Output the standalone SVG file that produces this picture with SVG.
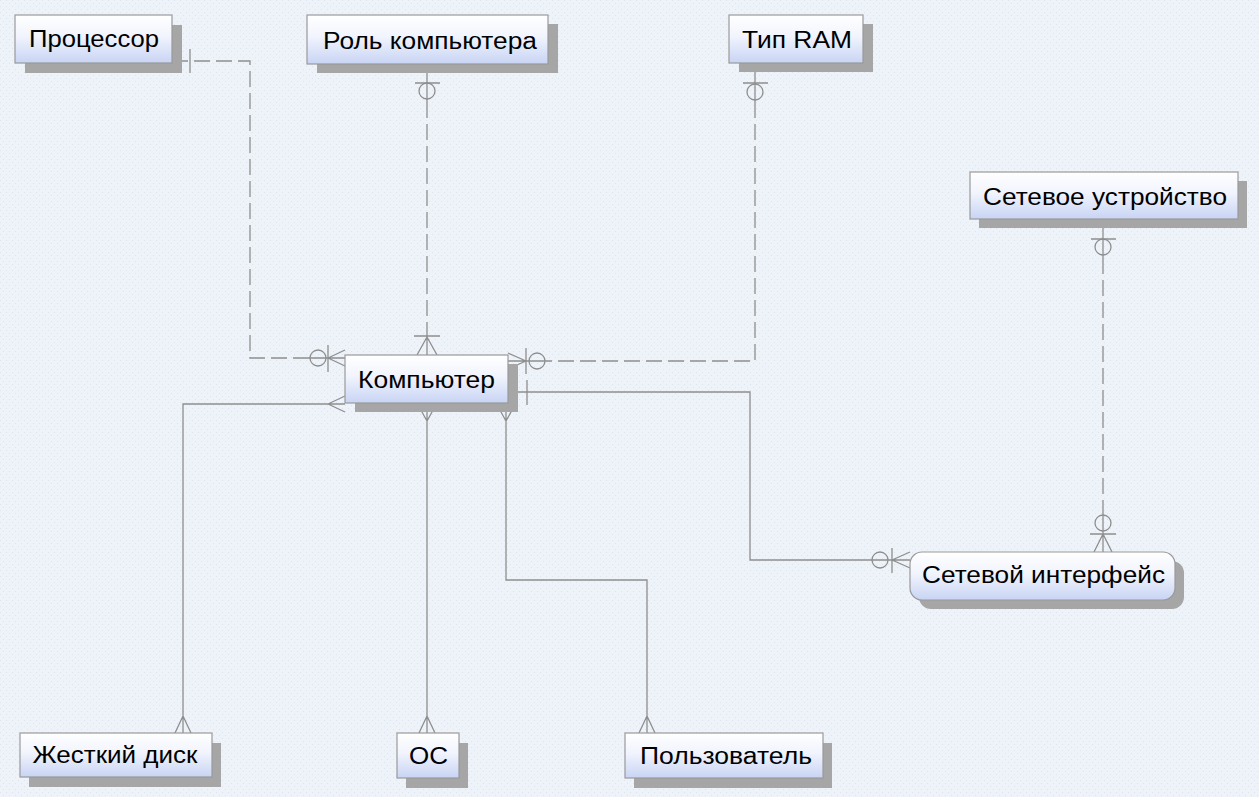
<svg xmlns="http://www.w3.org/2000/svg" width="1259" height="797" viewBox="0 0 1259 797">
  <defs>
    <pattern id="bg" width="6" height="6" patternUnits="userSpaceOnUse">
      <rect width="6" height="6" fill="#eef3f9"/>
      <rect x="0" y="0" width="1" height="1" fill="#dde4ec"/>
      <rect x="3" y="3" width="1" height="1" fill="#dde4ec"/>
    </pattern>
    <linearGradient id="boxg" x1="0" y1="0" x2="0" y2="1">
      <stop offset="0" stop-color="#ffffff"/>
      <stop offset="0.45" stop-color="#f1f4fd"/>
      <stop offset="1" stop-color="#c8d4f4"/>
    </linearGradient>
    <style>
      .box { fill: url(#boxg); stroke: #9a9a9a; stroke-width: 1.2; }
      .sh { fill: #a6a6a6; }
      .lbl { font-family: "Liberation Sans", Arial, sans-serif; font-size: 23px; fill: #000; text-anchor: middle; }
      .ln { fill: none; stroke: #8e8e8e; stroke-width: 1.3; }
      .dash { stroke-dasharray: 16 6; }
    </style>
  </defs>
  <rect width="1259" height="797" fill="url(#bg)"/>

  <g id="connectors">
    <!-- Процессор - Компьютер -->
    <path class="ln dash" d="M172,61 H250 V358 H300"/>
    <path class="ln" d="M300,358 H345 M190,49 V73 M328,345 V372 M328,358 L345,350 M328,358 L345,366"/>
    <circle class="ln" cx="318" cy="358" r="8"/>
    <!-- Роль компьютера - Компьютер -->
    <path class="ln" d="M427,64 V102"/>
    <path class="ln dash" d="M427,102 V322"/>
    <path class="ln" d="M427,322 V355 M415,83 H440 M414,336 H440 M427,337 L417,355 M427,337 L437,355"/>
    <circle class="ln" cx="427" cy="91" r="8"/>
    <!-- Тип RAM - Компьютер -->
    <path class="ln" d="M755,63 V102"/>
    <path class="ln dash" d="M755,102 V361 H552"/>
    <path class="ln" d="M552,361 H508 M743,83 H768 M526,348 V374 M526,361 L508,353 M526,361 L508,369"/>
    <circle class="ln" cx="755" cy="92" r="8"/>
    <circle class="ln" cx="537" cy="361" r="8"/>
    <!-- Сетевое устройство - Сетевой интерфейс -->
    <path class="ln" d="M1103,219 V258"/>
    <path class="ln dash" d="M1103,258 V510"/>
    <path class="ln" d="M1103,510 V552 M1091,239 H1116 M1090,534 H1116 M1103,534 L1094,552 M1103,534 L1112,552"/>
    <circle class="ln" cx="1103" cy="247" r="8"/>
    <circle class="ln" cx="1103" cy="523" r="8"/>
    <!-- Компьютер - Сетевой интерфейс -->
    <path class="ln" d="M508,392 H750 V560 H910 M527,380 V405 M892,548 V573 M892,560 L910,552 M892,560 L910,568"/>
    <circle class="ln" cx="880" cy="560" r="8"/>
    <!-- Компьютер - Жесткий диск -->
    <path class="ln" d="M345,404 H183 V733 M328,404 L345,396 M328,404 L345,412 M183,716 L175,733 M183,716 L191,733"/>
    <!-- Компьютер - ОС -->
    <path class="ln" d="M427,403 V733 M427,421 L417,403 M427,421 L437,403 M427,716 L419,733 M427,716 L435,733"/>
    <!-- Компьютер - Пользователь -->
    <path class="ln" d="M506,403 V580 H647 V733 M506,421 L496,403 M506,421 L516,403 M647,716 L639,733 M647,716 L655,733"/>
  </g>

  <g id="node-processor">
    <rect class="sh" x="25" y="25" width="157" height="48"/>
    <rect class="box" x="15" y="15" width="157" height="48"/>
    <text class="lbl" x="94" y="47" textLength="130" lengthAdjust="spacingAndGlyphs">Процессор</text>
  </g>
  <g id="node-role">
    <rect class="sh" x="317" y="24" width="241" height="49"/>
    <rect class="box" x="307" y="15" width="241" height="49"/>
    <text class="lbl" x="430" y="49" textLength="214" lengthAdjust="spacingAndGlyphs">Роль компьютера</text>
  </g>
  <g id="node-ram">
    <rect class="sh" x="739" y="24" width="134" height="48"/>
    <rect class="box" x="729" y="15" width="134" height="48"/>
    <text class="lbl" x="797" y="48" textLength="110" lengthAdjust="spacingAndGlyphs">Тип RAM</text>
  </g>
  <g id="node-netdevice">
    <rect class="sh" x="979" y="181" width="268" height="47"/>
    <rect class="box" x="970" y="172" width="268" height="47"/>
    <text class="lbl" x="1105" y="205" textLength="244" lengthAdjust="spacingAndGlyphs">Сетевое устройство</text>
  </g>
  <g id="node-computer">
    <rect class="sh" x="355" y="364" width="163" height="48"/>
    <rect class="box" x="345" y="355" width="163" height="48"/>
    <text class="lbl" x="426.5" y="388" textLength="137" lengthAdjust="spacingAndGlyphs">Компьютер</text>
  </g>
  <g id="node-netif">
    <rect class="sh" x="919" y="561" width="265" height="48" rx="12"/>
    <rect class="box" x="910" y="552" width="265" height="48" rx="12"/>
    <text class="lbl" x="1043.5" y="583" textLength="243" lengthAdjust="spacingAndGlyphs">Сетевой интерфейс</text>
  </g>
  <g id="node-hdd">
    <rect class="sh" x="29" y="743" width="192" height="44"/>
    <rect class="box" x="20" y="733" width="192" height="44"/>
    <text class="lbl" x="115" y="763" textLength="165" lengthAdjust="spacingAndGlyphs">Жесткий диск</text>
  </g>
  <g id="node-os">
    <rect class="sh" x="406" y="743" width="62" height="45"/>
    <rect class="box" x="397" y="733" width="62" height="45"/>
    <text class="lbl" x="428.5" y="764" textLength="39" lengthAdjust="spacingAndGlyphs">ОС</text>
  </g>
  <g id="node-user">
    <rect class="sh" x="634" y="743" width="198" height="45"/>
    <rect class="box" x="625" y="733" width="198" height="45"/>
    <text class="lbl" x="726" y="764" textLength="172" lengthAdjust="spacingAndGlyphs">Пользователь</text>
  </g>
</svg>
